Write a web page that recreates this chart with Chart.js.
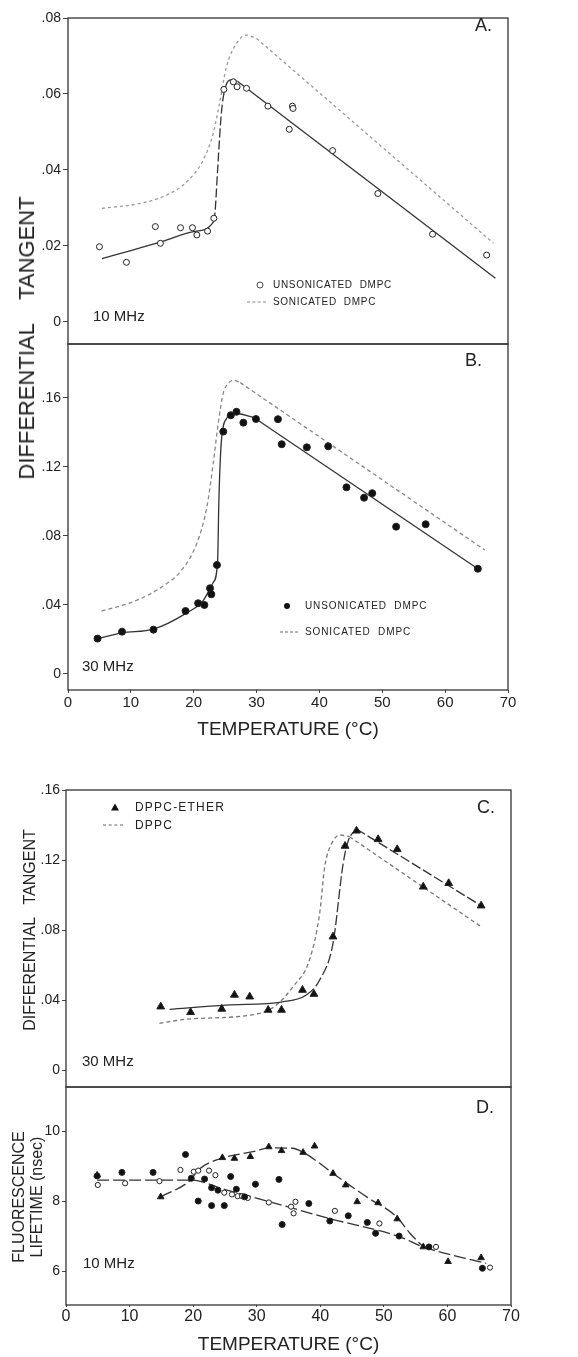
<!DOCTYPE html>
<html>
<head>
<meta charset="utf-8">
<script src="https://cdn.jsdelivr.net/npm/chart.js@4.4.0/dist/chart.umd.min.js"></script>
<style>
  body { margin: 0; background: #fff; }
  #page { position: relative; width: 578px; height: 1357px; overflow: hidden;
          font-family: "Liberation Sans", Arial, sans-serif; color: #222; }
  canvas { position: absolute; left: 0; top: 0; }
  .t { position: absolute; white-space: pre; line-height: 1; transform: translateY(-50%); }
  .rot { position: absolute; white-space: pre; line-height: 1; transform: translate(-50%, -50%) rotate(-90deg); }
  .lg { font-size: 10px; letter-spacing: 0.7px; }
  .dot { position: absolute; width: 6px; height: 6px; border-radius: 50%; transform: translate(-50%, -50%); }
  .dash { position: absolute; height: 0; border-top: 1.3px dashed #666; transform: translateY(-50%); }
  .tri { position: absolute; width: 0; height: 0; border-left: 4px solid transparent;
         border-right: 4px solid transparent; border-bottom: 7px solid #111; transform: translate(-50%, -50%); }
</style>
</head>
<body>
<div id="page">
  <canvas id="chA" width="578" height="1357"></canvas>
  <canvas id="chB" width="578" height="1357"></canvas>
  <canvas id="chC" width="578" height="1357"></canvas>
  <canvas id="chD" width="578" height="1357"></canvas>

  <!-- shared y title for A and B -->
  <div class="rot" style="left:27px;top:338px;font-size:22px;">DIFFERENTIAL    TANGENT</div>
  <div class="rot" style="left:30px;top:930px;font-size:16px;">DIFFERENTIAL   TANGENT</div>
  <div class="rot" style="left:19px;top:1197px;font-size:16px;">FLUORESCENCE</div>
  <div class="rot" style="left:37px;top:1197px;font-size:16px;">LIFETIME (nsec)</div>

  <!-- panel letters and frequencies -->
  <div class="t" style="left:475px;top:25px;font-size:18px;">A.</div>
  <div class="t" style="left:465px;top:360px;font-size:18px;">B.</div>
  <div class="t" style="left:477px;top:807px;font-size:18px;">C.</div>
  <div class="t" style="left:476px;top:1107px;font-size:18px;">D.</div>
  <div class="t" style="left:93px;top:315px;font-size:15px;">10 MHz</div>
  <div class="t" style="left:82px;top:665px;font-size:15px;">30 MHz</div>
  <div class="t" style="left:82px;top:1060px;font-size:15px;">30 MHz</div>
  <div class="t" style="left:83px;top:1262px;font-size:15px;">10 MHz</div>

  <!-- legend A -->
  <div class="dot" style="left:260px;top:285px;width:5px;height:5px;border:1px solid #444;background:#fff;"></div>
  <div class="t lg" style="left:273px;top:285px;">UNSONICATED  DMPC</div>
  <div class="dash" style="left:247px;top:302px;width:19px;border-top-color:#888;"></div>
  <div class="t lg" style="left:273px;top:302px;">SONICATED  DMPC</div>

  <!-- legend B -->
  <div class="dot" style="left:287px;top:606px;background:#111;"></div>
  <div class="t lg" style="left:305px;top:606px;letter-spacing:0.9px;">UNSONICATED  DMPC</div>
  <div class="dash" style="left:280px;top:632px;width:18px;"></div>
  <div class="t lg" style="left:305px;top:632px;letter-spacing:0.9px;">SONICATED  DMPC</div>

  <!-- legend C -->
  <div class="tri" style="left:115px;top:807px;"></div>
  <div class="t" style="left:135px;top:807px;font-size:12px;letter-spacing:1.2px;">DPPC-ETHER</div>
  <div class="dash" style="left:103px;top:825px;width:20px;"></div>
  <div class="t" style="left:135px;top:825px;font-size:12px;letter-spacing:1.2px;">DPPC</div>
</div>

<script>
const FONT = '"Liberation Sans", Arial, sans-serif';
const INK = '#222';

// temperature axis (°C)
const tempTicks = [0, 10, 20, 30, 40, 50, 60, 70];
const tempLabels = ['0', '10', '20', '30', '40', '50', '60', '70'];

// ---- Panel A: 10 MHz, DMPC ----
const aTicks = [0, 0.02, 0.04, 0.06, 0.08];
const aTickLabels = ['0', '.02', '.04', '.06', '.08'];
const aUnsonT = [5.0, 9.3, 13.9, 14.7, 17.9, 19.8, 20.5, 22.2, 23.2, 24.8, 26.3, 26.9, 28.4, 31.8, 35.7, 35.8, 35.2, 42.1, 49.3, 58.0, 66.6];
const aUnsonV = [0.0198, 0.0157, 0.0251, 0.0207, 0.0248, 0.0248, 0.0229, 0.0239, 0.0273, 0.0612, 0.0632, 0.0619, 0.0615, 0.0568, 0.0568, 0.0562, 0.0507, 0.0451, 0.0338, 0.0231, 0.0176];
const aUnsonFitT = [5.4, 10, 15, 20, 23.2, 23.4, 23.8, 24.4, 25.0, 26.0, 27.0, 68.0];
const aUnsonFitV = [0.0167, 0.0188, 0.0212, 0.0238, 0.0265, 0.029, 0.040, 0.055, 0.0615, 0.0637, 0.0633, 0.0115];
const aSonT = [5.4, 11.5, 15.7, 18.9, 21.5, 23.1, 24.2, 25.2, 26.8, 28.4, 30.0, 67.7];
const aSonV = [0.0299, 0.0312, 0.0334, 0.0369, 0.0426, 0.0496, 0.0584, 0.0671, 0.0733, 0.0755, 0.0746, 0.0207];

// ---- Panel B: 30 MHz, DMPC ----
const bTicks = [0, 0.04, 0.08, 0.12, 0.16];
const bTickLabels = ['0', '.04', '.08', '.12', '.16'];
const bUnsonT = [4.7, 8.6, 13.6, 18.7, 20.7, 21.7, 22.6, 22.8, 23.7, 24.7, 25.9, 26.8, 27.9, 29.9, 33.4, 34.0, 38.0, 41.4, 44.3, 47.1, 48.4, 52.2, 56.9, 65.2];
const bUnsonV = [0.0205, 0.0245, 0.0257, 0.0365, 0.041, 0.040, 0.0497, 0.0462, 0.0632, 0.1405, 0.150, 0.152, 0.1457, 0.1478, 0.1477, 0.1332, 0.1314, 0.132, 0.1082, 0.1022, 0.1048, 0.0854, 0.0868, 0.061];
const bUnsonFitT = [4.7, 8.6, 13.6, 18.7, 21.5, 23.1, 23.8, 24.0, 24.4, 25.2, 26.4, 29.5, 65.2];
const bUnsonFitV = [0.0205, 0.0238, 0.026, 0.035, 0.0425, 0.053, 0.065, 0.10, 0.135, 0.148, 0.1513, 0.1488, 0.061];
const bSonT = [5.35, 10.4, 14.6, 18.1, 20.5, 22.1, 23.1, 23.9, 24.7, 25.5, 26.3, 27.4, 66.3];
const bSonV = [0.0365, 0.0419, 0.0497, 0.0603, 0.0758, 0.097, 0.122, 0.1453, 0.1627, 0.1685, 0.1704, 0.1689, 0.0719];

// ---- Panel C: 30 MHz, DPPC-ether vs DPPC ----
const cTicks = [0, 0.04, 0.08, 0.12, 0.16];
const cTickLabels = ['0', '.04', '.08', '.12', '.16'];
const cEtherT = [14.9, 19.6, 24.5, 26.5, 28.9, 31.8, 33.9, 37.2, 39.0, 42.0, 43.9, 45.7, 49.1, 52.1, 56.2, 60.2, 65.3];
const cEtherV = [0.0362, 0.033, 0.0349, 0.0429, 0.0419, 0.0343, 0.0343, 0.0457, 0.0434, 0.0762, 0.128, 0.1367, 0.1318, 0.1261, 0.1047, 0.1067, 0.0939];
const cEtherFitT = [16.3, 25.2, 34.1, 37.8, 39.9, 42.0, 43.6, 44.4, 45.7, 65.3];
const cEtherFitV = [0.0347, 0.0371, 0.039, 0.0429, 0.0514, 0.0724, 0.118, 0.131, 0.1377, 0.0939];
const cDppcT = [14.7, 18.9, 30.5, 33.1, 35.7, 38.3, 39.9, 40.7, 41.8, 43.1, 44.6, 65.3];
const cDppcV = [0.0267, 0.029, 0.0324, 0.0371, 0.0476, 0.0629, 0.0895, 0.1162, 0.1295, 0.1343, 0.1333, 0.0819];

// ---- Panel D: 10 MHz fluorescence lifetime (nsec) ----
const dTicks = [6, 8, 10];
const dTickLabels = ['6', '8', '10'];
const dFilledT = [4.9, 8.8, 13.7, 18.8, 19.7, 20.8, 21.8, 22.9, 22.9, 23.9, 24.9, 25.9, 26.8, 28.1, 29.8, 33.5, 34.0, 38.2, 41.5, 44.4, 47.4, 48.7, 52.4, 57.1, 65.5];
const dFilledV = [8.72, 8.82, 8.82, 9.33, 8.65, 8.0, 8.63, 8.38, 7.87, 8.31, 7.87, 8.7, 8.34, 8.12, 8.48, 8.62, 7.33, 7.93, 7.43, 7.58, 7.39, 7.08, 7.0, 6.69, 6.08];
const dOpenT = [5.0, 9.3, 14.7, 18.0, 20.1, 20.8, 22.5, 23.5, 24.9, 26.1, 27.0, 27.7, 28.6, 31.9, 35.4, 35.8, 36.1, 42.3, 49.3, 58.2, 66.7];
const dOpenV = [8.46, 8.51, 8.57, 8.89, 8.84, 8.87, 8.87, 8.74, 8.24, 8.19, 8.14, 8.14, 8.09, 7.96, 7.84, 7.65, 7.98, 7.72, 7.36, 6.69, 6.1];
const dTriT = [4.9, 14.9, 24.6, 26.5, 29.0, 31.9, 33.9, 37.3, 39.1, 42.0, 44.0, 45.8, 49.1, 52.1, 56.2, 60.1, 65.3];
const dTriV = [8.74, 8.12, 9.24, 9.22, 9.27, 9.55, 9.44, 9.39, 9.57, 8.79, 8.46, 7.98, 7.95, 7.49, 6.69, 6.27, 6.38];
const dCircFitT = [4.9, 14.0, 19.7, 25.0, 32.0, 41.5, 52.5, 56.2, 66.1];
const dCircFitV = [8.6, 8.6, 8.6, 8.33, 7.98, 7.5, 6.98, 6.69, 6.22];
const dTriFitT = [14.9, 19.7, 20.8, 24.6, 29.4, 32.0, 35.6, 37.8, 39.9, 42.0, 47.3, 52.0, 54.1, 56.2];
const dTriFitV = [8.12, 8.62, 8.89, 9.23, 9.41, 9.52, 9.51, 9.34, 9.08, 8.79, 8.12, 7.55, 7.08, 6.69];

function xy(t, v) { return t.map((x, i) => ({ x: x, y: v[i] })); }

function points(t, v, style, fill, r) {
  return { data: xy(t, v), pointStyle: style, pointRadius: r, pointBackgroundColor: fill,
           pointBorderColor: '#222', pointBorderWidth: 1, showLine: false, order: 0 };
}
function line(data, color, dash, tension, extra) {
  return Object.assign({ data: data, showLine: true, pointRadius: 0, borderColor: color,
           borderWidth: 1.3, borderDash: dash, tension: tension,
           cubicInterpolationMode: tension ? 'monotone' : 'default',
           fill: false, order: 1 }, extra || {});
}
// smooth rise up to the last two points, then a straight fall to the end
function fitCurve(t, v, color, dash, extra) {
  const d = xy(t, v), k = d.length - 2;
  return [line(d.slice(0, k + 1), color, dash, 0.4, extra),
          line(d.slice(k), color, dash, 0, extra)];
}

const boxPlugin = {
  id: 'box',
  afterDraw(chart) {
    const a = chart.chartArea, ctx = chart.ctx;
    ctx.save();
    ctx.strokeStyle = '#333';
    ctx.lineWidth = 1.3;
    ctx.strokeRect(a.left, a.top, a.right - a.left, a.bottom - a.top);
    ctx.restore();
  }
};

function makePanel(id, p) {
  const xAxis = {
    type: 'linear', min: 0, max: 70, display: p.showX,
    afterBuildTicks: s => { s.ticks = tempTicks.map(v => ({ value: v })); },
    afterFit: s => { s.height = p.showX ? 51 : 0; },
    ticks: { autoSkip: false, maxRotation: 0, padding: p.xPad, color: INK,
             font: { family: FONT, size: p.xFont },
             callback: v => tempLabels[tempTicks.indexOf(v)] },
    grid: { drawOnChartArea: false, tickLength: p.xTick, color: '#444' },
    border: { display: false },
    title: { display: true, text: 'TEMPERATURE (°C)', color: INK, padding: 0,
             font: { family: FONT, size: 19 } }
  };
  new Chart(document.getElementById(id), {
    type: 'scatter',
    data: { datasets: p.datasets },
    options: {
      responsive: false, animation: false, devicePixelRatio: 1,
      layout: { padding: p.pad },
      plugins: { legend: { display: false }, tooltip: { enabled: false } },
      scales: {
        x: xAxis,
        y: {
          type: 'linear', min: p.yMin, max: p.yMax,
          afterBuildTicks: s => { s.ticks = p.yTicks.map(v => ({ value: v })); },
          afterFit: s => { s.width = p.yWidth; },
          ticks: { padding: 2, color: INK, font: { family: FONT, size: 14 },
                   callback: v => p.yLabels[p.yTicks.indexOf(v)] },
          grid: { drawOnChartArea: false, tickLength: p.yTick, color: '#444' },
          border: { display: false }
        }
      }
    },
    plugins: [boxPlugin]
  });
}

makePanel('chA', {
  showX: false, xPad: 1, xFont: 15, xTick: 3,
  pad: { top: 18, left: 0, right: 70, bottom: 1013 },
  yMin: -0.0058, yMax: 0.08, yTicks: aTicks, yLabels: aTickLabels, yWidth: 68, yTick: 5,
  datasets: [
    points(aUnsonT, aUnsonV, 'circle', '#fff', 3),
    ...fitCurve(aUnsonFitT, aUnsonFitV, '#333', [], {
      segment: { borderDash: c => (c.p0.parsed.x >= 23.1 && c.p1.parsed.x <= 25.1) ? [9, 3] : undefined }
    }),
    ...fitCurve(aSonT, aSonV, '#999', [3, 3])
  ]
});

makePanel('chB', {
  showX: true, xPad: 1, xFont: 15, xTick: 3,
  pad: { top: 344, left: 0, right: 70, bottom: 616 },
  yMin: -0.0093, yMax: 0.1913, yTicks: bTicks, yLabels: bTickLabels, yWidth: 68, yTick: 5,
  datasets: [
    points(bUnsonT, bUnsonV, 'circle', '#111', 3.5),
    ...fitCurve(bUnsonFitT, bUnsonFitV, '#333', []),
    ...fitCurve(bSonT, bSonV, '#888', [4, 3])
  ]
});

makePanel('chC', {
  showX: false, xPad: 1, xFont: 15, xTick: 3,
  pad: { top: 790, left: 0, right: 67, bottom: 270 },
  yMin: -0.0097, yMax: 0.16, yTicks: cTicks, yLabels: cTickLabels, yWidth: 66, yTick: 4,
  datasets: [
    points(cEtherT, cEtherV, 'triangle', '#111', 4.5),
    ...fitCurve(cEtherFitT, cEtherFitV, '#333', [], {
      segment: { borderDash: c => (c.p0.parsed.x >= 37.8) ? [10, 3] : undefined }
    }),
    ...fitCurve(cDppcT, cDppcV, '#777', [4, 3])
  ]
});

makePanel('chD', {
  showX: true, xPad: 0, xFont: 16, xTick: 2,
  pad: { top: 1087, left: 0, right: 67, bottom: 1 },
  yMin: 5.03, yMax: 11.26, yTicks: dTicks, yLabels: dTickLabels, yWidth: 66, yTick: 4,
  datasets: [
    points(dFilledT, dFilledV, 'circle', '#111', 3),
    points(dOpenT, dOpenV, 'circle', '#fff', 2.6),
    points(dTriT, dTriV, 'triangle', '#111', 3.8),
    line(xy(dCircFitT, dCircFitV), '#333', [12, 4], 0.4),
    line(xy(dTriFitT, dTriFitV), '#333', [12, 4], 0.4)
  ]
});
</script>
</body>
</html>
